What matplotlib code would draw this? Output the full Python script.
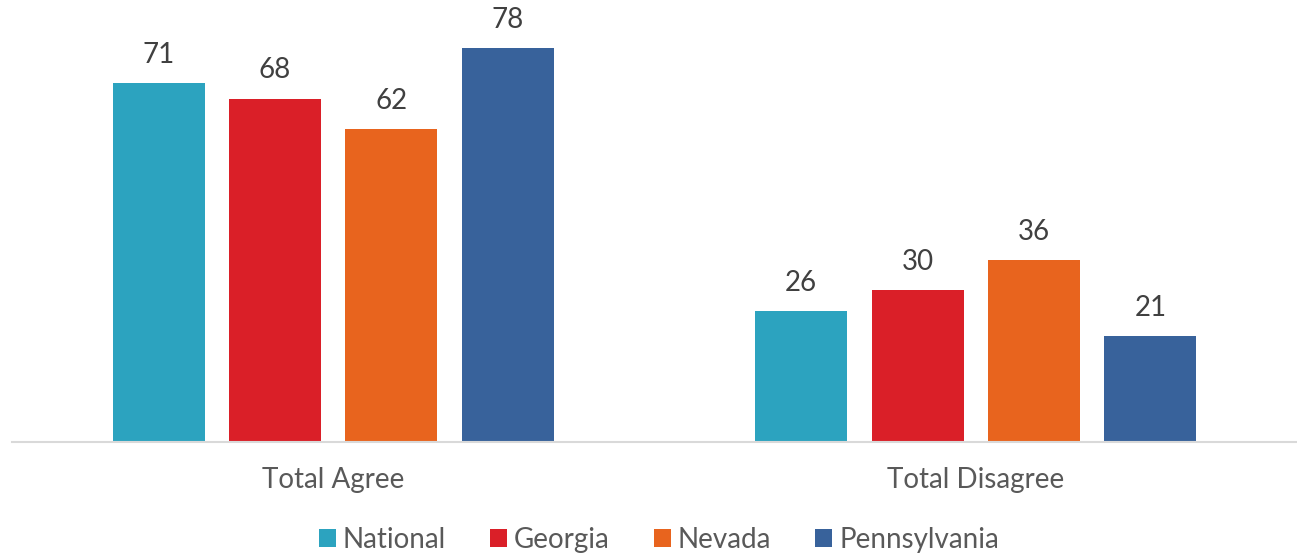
import matplotlib.pyplot as plt
import numpy as np

categories = ['Total Agree', 'Total Disagree']
series = ['National', 'Georgia', 'Nevada', 'Pennsylvania']
national = [71, 26]
georgia = [68, 30]
nevada = [62, 36]
pennsylvania = [78, 21]
colors = ['#2CA3BF', '#DA1F28', '#E8641E', '#38629B']

plt.rcParams['font.family'] = ['Lato', 'DejaVu Sans']

fig = plt.figure(figsize=(12.97, 5.53), dpi=100)
ax = fig.add_axes([12 / 1297, 111 / 553, 1285 / 1297, 442 / 553])

x = np.arange(len(categories))
width = 0.1432
step = 0.1813
values = [national, georgia, nevada, pennsylvania]
for i, (name, vals, col) in enumerate(zip(series, values, colors)):
    pos = x + (i - 1.5) * step
    bars = ax.bar(pos, vals, width, color=col, label=name)
    for b, v in zip(bars, vals):
        ax.text(b.get_x() + b.get_width() / 2, v + 3.0, str(v),
                ha='center', va='bottom', fontsize=20, color='#404040')

ax.set_xlim(-0.5, 1.5)
ax.set_ylim(0, 87.5)
ax.set_yticks([])
ax.set_xticks(x)
ax.set_xticklabels(categories, fontsize=20, color='#595959')
ax.tick_params(axis='x', length=0, pad=18)
for s in ['top', 'right', 'left']:
    ax.spines[s].set_visible(False)
ax.spines['bottom'].set_color('#D9D9D9')
ax.spines['bottom'].set_linewidth(1.5)

fig.legend(loc='lower center', ncol=4, frameon=False, fontsize=20,
           handlelength=0.6, handleheight=0.6, handletextpad=0.25,
           columnspacing=1.6, labelcolor='#595959',
           bbox_to_anchor=(0.508, -0.045))

fig.savefig('out.png', dpi=100)
